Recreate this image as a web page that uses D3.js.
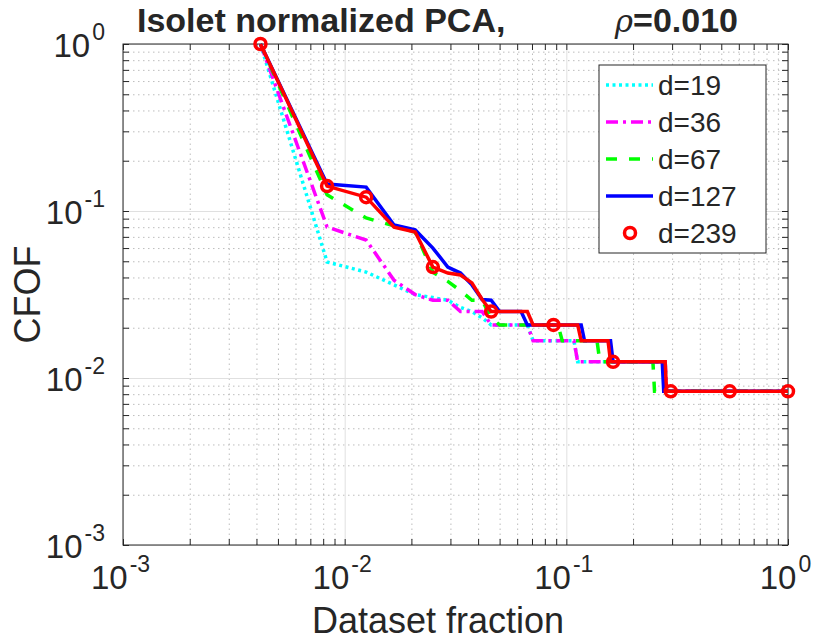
<!DOCTYPE html>
<html>
<head>
<meta charset="utf-8">
<script src="https://cdn.jsdelivr.net/npm/d3@7"></script>
<style>
  body { margin: 0; background: #fff; }
  text { font-family: "Liberation Sans", Arial, Helvetica, sans-serif; fill: #262626; }
</style>
</head>
<body>
<script>
// dataset fraction (x) and CFOF (y), one pair of arrays per curve
const x19 = [0.00417, 0.00833, 0.0125, 0.0167, 0.0208, 0.025, 0.0292, 0.0333, 0.0375, 0.0417, 0.0458, 0.0667, 0.0708, 0.1083, 0.1125, 0.2792, 0.2833, 1.0]
const y19 = [1.0, 0.0495, 0.0431, 0.0361, 0.0316, 0.0303, 0.0292, 0.0265, 0.025, 0.0229, 0.0208, 0.0208, 0.0167, 0.0167, 0.0125, 0.0125, 0.00833, 0.00833]

const x36 = [0.00417, 0.00833, 0.0125, 0.0167, 0.0208, 0.025, 0.0292, 0.0333, 0.0417, 0.0458, 0.0667, 0.0708, 0.1083, 0.1125, 0.2792, 0.2833, 1.0]
const y36 = [1.0, 0.0802, 0.067, 0.0385, 0.0316, 0.0292, 0.0292, 0.025, 0.025, 0.0208, 0.0208, 0.0167, 0.0167, 0.0125, 0.0125, 0.00833, 0.00833]

const x67 = [0.00417, 0.00833, 0.0125, 0.0167, 0.0208, 0.025, 0.0292, 0.0333, 0.0375, 0.0417, 0.0458, 0.05, 0.0917, 0.0958, 0.1375, 0.1417, 0.2458, 0.25, 1.0]
const y67 = [1.0, 0.125, 0.0908, 0.0815, 0.0748, 0.043, 0.0379, 0.0333, 0.0292, 0.0292, 0.0229, 0.0208, 0.0208, 0.0167, 0.0167, 0.0125, 0.0125, 0.00833, 0.00833]

const x127 = [0.00417, 0.00833, 0.0125, 0.0167, 0.0208, 0.025, 0.0292, 0.0333, 0.0375, 0.0417, 0.0458, 0.05, 0.0625, 0.0667, 0.1167, 0.1208, 0.1583, 0.1625, 0.2708, 0.275, 1.0]
const y127 = [1.0, 0.145, 0.139, 0.0824, 0.077, 0.06, 0.0462, 0.0425, 0.0361, 0.0295, 0.0292, 0.025, 0.025, 0.0208, 0.0208, 0.0167, 0.0167, 0.0125, 0.0125, 0.00833, 0.00833]

const x239 = [0.00417, 0.00833, 0.0125, 0.0167, 0.0208, 0.025, 0.0292, 0.0333, 0.0375, 0.0417, 0.0458, 0.0667, 0.0708, 0.1125, 0.1167, 0.1542, 0.1583, 0.2792, 0.2833, 1.0]
const y239 = [1.0, 0.141, 0.121, 0.08, 0.0748, 0.0462, 0.0425, 0.0414, 0.0371, 0.0295, 0.025, 0.025, 0.0208, 0.0208, 0.0167, 0.0167, 0.0125, 0.0125, 0.00833, 0.00833]

// the d=239 curve only carries circles on a subset of its points
const markX239 = [0.00417, 0.00833, 0.0125, 0.025, 0.0458, 0.0875, 0.1625, 0.2958, 0.5458, 1.0]
const markY239 = [1.0, 0.141, 0.121, 0.0462, 0.025, 0.0208, 0.0125, 0.00833, 0.00833, 0.00833]

const seriesNames = ['d=19', 'd=36', 'd=67', 'd=127', 'd=239']
const majorTicks = [1e-3, 1e-2, 1e-1, 1]
const tickExponents = ['-3', '-2', '-1', '0']

const width = 815
const height = 640
const plotL = 123, plotR = 788, plotT = 44, plotB = 545

const x = d3.scaleLog().domain([1e-3, 1]).range([plotL, plotR])
const y = d3.scaleLog().domain([1e-3, 1]).range([plotB, plotT])

const isMajor = d => Math.abs(Math.log10(d) - Math.round(Math.log10(d))) < 1e-6
const minorX = x.ticks().filter(d => !isMajor(d))
const minorY = y.ticks().filter(d => !isMajor(d))

const svg = d3.select('body').append('svg')
  .attr('width', width)
  .attr('height', height)

// grid: minor dotted, major solid
function grid(axis, tr, values, dashed) {
  const g = svg.append('g')
    .attr('transform', tr)
    .call(axis.tickValues(values).tickSizeOuter(0).tickFormat(''))
  g.select('.domain').remove()
  g.selectAll('line')
    .attr('stroke', dashed ? '#bdbdbd' : '#e0e0e0')
    .attr('stroke-width', 1)
    .attr('stroke-dasharray', dashed ? '1.5,3.5' : null)
}
grid(d3.axisBottom(x).tickSizeInner(-(plotB - plotT)), `translate(0,${plotB})`, minorX, true)
grid(d3.axisLeft(y).tickSizeInner(-(plotR - plotL)), `translate(${plotL},0)`, minorY, true)
grid(d3.axisBottom(x).tickSizeInner(-(plotB - plotT)), `translate(0,${plotB})`, majorTicks, false)
grid(d3.axisLeft(y).tickSizeInner(-(plotR - plotL)), `translate(${plotL},0)`, majorTicks, false)

// tick marks on all four sides, pointing inwards
const allX = majorTicks.concat(minorX)
const allY = majorTicks.concat(minorY)
function ticks(axis, tr) {
  const g = svg.append('g').attr('transform', tr).call(axis.tickSizeOuter(0).tickFormat(''))
  g.select('.domain').remove()
  g.selectAll('line').attr('stroke', '#262626').attr('stroke-width', 1)
}
ticks(d3.axisBottom(x).tickValues(allX).tickSizeInner(-6), `translate(0,${plotB})`)
ticks(d3.axisTop(x).tickValues(allX).tickSizeInner(-6), `translate(0,${plotT})`)
ticks(d3.axisLeft(y).tickValues(allY).tickSizeInner(-6), `translate(${plotL},0)`)
ticks(d3.axisRight(y).tickValues(allY).tickSizeInner(-6), `translate(${plotR},0)`)

svg.append('rect')
  .attr('x', plotL).attr('y', plotT)
  .attr('width', plotR - plotL).attr('height', plotB - plotT)
  .attr('fill', 'none').attr('stroke', '#262626').attr('stroke-width', 1)

// tick labels 10^k
const xLab = svg.append('g').attr('transform', `translate(0,${plotB})`)
  .call(d3.axisBottom(x).tickValues(majorTicks).tickSize(0).tickFormat(''))
xLab.select('.domain').remove()
xLab.selectAll('.tick').each(function (d, i) {
  const t = d3.select(this).append('text')
    .attr('x', -3).attr('y', 44).attr('text-anchor', 'middle').attr('font-size', 33)
  t.append('tspan').text('10')
  t.append('tspan').attr('dx', 2).attr('dy', -17).attr('font-size', 23).text(tickExponents[i])
})

const yLab = svg.append('g').attr('transform', `translate(${plotL},0)`)
  .call(d3.axisLeft(y).tickValues(majorTicks).tickSize(0).tickFormat(''))
yLab.select('.domain').remove()
yLab.selectAll('.tick').each(function (d, i) {
  const t = d3.select(this).append('text')
    .attr('x', -18).attr('y', 12).attr('text-anchor', 'end').attr('font-size', 33)
  t.append('tspan').text('10')
  t.append('tspan').attr('dx', 2).attr('dy', -17).attr('font-size', 23).text(tickExponents[i])
})

// axis titles
svg.append('text')
  .attr('x', 438).attr('y', 633)
  .attr('text-anchor', 'middle').attr('font-size', 36)
  .text('Dataset fraction')

svg.append('text')
  .attr('transform', `translate(40,${(plotT + plotB) / 2}) rotate(-90)`)
  .attr('text-anchor', 'middle').attr('font-size', 36)
  .text('CFOF')

// title
svg.append('text')
  .attr('x', 137).attr('y', 32)
  .attr('font-size', 34).attr('font-weight', 'bold')
  .text('Isolet normalized PCA,')
const rho = svg.append('text')
  .attr('x', 738).attr('y', 32).attr('text-anchor', 'end')
  .attr('font-size', 34)
rho.append('tspan').attr('font-style', 'italic').attr('font-family', 'DejaVu Serif').attr('font-size', 31).text('ρ')
rho.append('tspan').attr('font-weight', 'bold').text('=0.010')

// curves
const styles = [
  {xs: x19, ys: y19, color: '#00ffff', dash: '3,3.5'},
  {xs: x36, ys: y36, color: '#ff00ff', dash: '12,5,3,5'},
  {xs: x67, ys: y67, color: '#00ff00', dash: '11,12'},
  {xs: x127, ys: y127, color: '#0000ff', dash: null},
  {xs: x239, ys: y239, color: '#ff0000', dash: null}
]

const line = d3.line().x(d => x(d[0])).y(d => y(d[1]))
const plot = svg.append('g')

styles.forEach(s => {
  plot.append('path')
    .datum(d3.zip(s.xs, s.ys))
    .attr('d', line)
    .attr('fill', 'none')
    .attr('stroke', s.color)
    .attr('stroke-width', 3.5)
    .attr('stroke-dasharray', s.dash)
})

plot.selectAll('circle.mark')
  .data(d3.zip(markX239, markY239))
  .enter()
  .append('circle')
  .attr('class', 'mark')
  .attr('cx', d => x(d[0]))
  .attr('cy', d => y(d[1]))
  .attr('r', 5.5)
  .attr('fill', 'none')
  .attr('stroke', '#ff0000')
  .attr('stroke-width', 3.5)

// legend
const legend = svg.append('g').attr('transform', 'translate(599,65)')
legend.append('rect')
  .attr('width', 167).attr('height', 188)
  .attr('fill', '#fff').attr('stroke', '#262626').attr('stroke-width', 1)

seriesNames.forEach((name, i) => {
  const cy = 20 + i * 37
  const s = styles[i]
  if (i < 4) {
    legend.append('line')
      .attr('x1', 7).attr('x2', 54).attr('y1', cy).attr('y2', cy)
      .attr('stroke', s.color).attr('stroke-width', 3.5)
      .attr('stroke-dasharray', s.dash)
  } else {
    legend.append('circle')
      .attr('cx', 31).attr('cy', cy).attr('r', 5.5)
      .attr('fill', 'none').attr('stroke', s.color).attr('stroke-width', 3.5)
  }
  legend.append('text')
    .attr('x', 59).attr('y', cy + 10)
    .attr('font-size', 28)
    .text(name)
})
</script>
</body>
</html>
